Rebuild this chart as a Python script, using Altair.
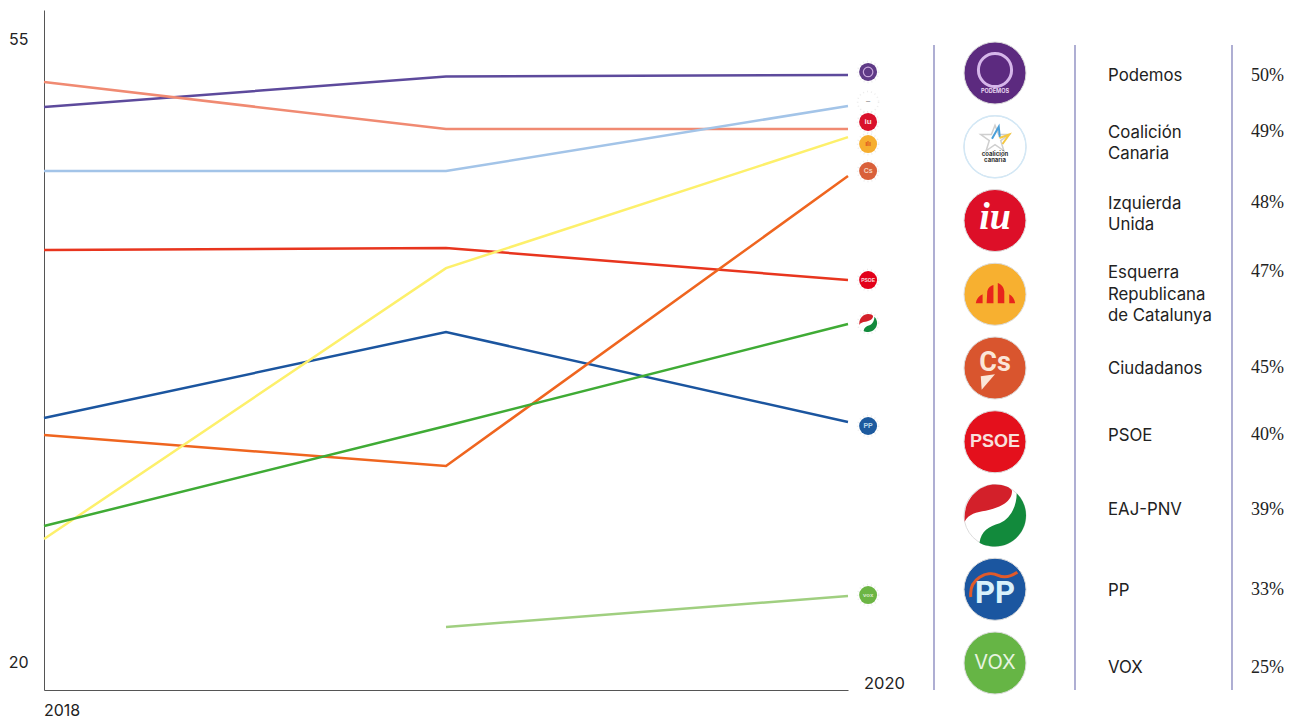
import altair as alt
import pandas as pd

# ---- values ----
years = [2018, 2019, 2020]
podemos = [51.18, 52.89, 52.98]
izquierda = [52.58, 49.94, 49.94]
coalicion = [47.58, 47.58, 51.24]
psoe = [43.15, 43.26, 41.46]
pp = [33.71, 38.54, 33.48]
ciudadanos = [32.75, 31.01, 47.30]
esquerra = [26.91, 42.13, 49.49]
pnv = [27.64, 33.26, 38.99]
vox = [None, 21.97, 23.71]

line_names = ["Podemos", "Izquierda Unida", "Coalición Canaria", "PSOE", "PP", "Ciudadanos", "Esquerra", "EAJ-PNV", "VOX"]
line_values = [podemos, izquierda, coalicion, psoe, pp, ciudadanos, esquerra, pnv, vox]
line_colors = ["#5d4a9c", "#f08a72", "#a3c4e8", "#e8351e", "#1b559f", "#ef651f", "#fdf06b", "#3fab35", "#a0cf80"]

dot_values = [53.15, 51.46, 50.34, 49.10, 47.58, 41.46, 39.04, 33.26, 23.76]
dot_colors = ["#5f3a86", "#ffffff", "#d9112b", "#f6ae2f", "#d9603a", "#e2001a", "#ffffff", "#1d5a9e", "#6cb544"]

party_lines = [["Podemos"], ["Coalición", "Canaria"], ["Izquierda", "Unida"],
               ["Esquerra", "Republicana", "de Catalunya"], ["Ciudadanos"], ["PSOE"],
               ["EAJ-PNV"], ["PP"], ["VOX"]]
percents = ["50%", "49%", "48%", "47%", "45%", "40%", "39%", "33%", "25%"]
logo_colors = ["#5c2a7f", "#ffffff", "#dd0f28", "#f7b030", "#d9552e", "#e4101c", "#ffffff", "#1b56a0", "#66b545"]

# ---- table row placement, in row units ----
label_rows = [0.03, 0.80, 1.76, 2.70, 4.00, 4.91, 5.91, 7.01, 8.05]
percent_rows = [0.03, 0.79, 1.75, 2.68, 3.99, 4.89, 5.91, 7.00, 8.05]
line_step = 0.2915

# ---- frames ----
lines_df = pd.DataFrame(
    [{"party": n, "year": y, "value": v}
     for n, vals in zip(line_names, line_values) for y, v in zip(years, vals) if v is not None]
)
dots_df = pd.DataFrame({"i": list(range(9)), "value": dot_values, "year": 2020.05, "color": dot_colors})
logos_df = pd.DataFrame({"row": list(range(9)), "color": logo_colors})
labels_df = pd.DataFrame(
    [{"text": t, "row": r + k * line_step}
     for r, ls in zip(label_rows, party_lines) for k, t in enumerate(ls)]
)
pct_df = pd.DataFrame({"text": percents, "row": percent_rows})

X = alt.X("year:Q", scale=alt.Scale(domain=[2018, 2020], nice=False, zero=False),
          axis=alt.Axis(values=[2018, 2020], labels=False, ticks=False, grid=False, title=None,
                        domainColor="#555555", domainWidth=1))
Y = alt.Y("value:Q", scale=alt.Scale(domain=[18.43, 56.63], nice=False, zero=False),
          axis=alt.Axis(values=[20, 55], ticks=False, grid=False, title=None, domainColor="#555555",
                        domainWidth=1, labelFont="Inter", labelFontSize=16, labelColor="#222222",
                        labelPadding=16))

lines = alt.Chart(lines_df).mark_line(strokeWidth=2.5, clip=False).encode(
    x=X, y=Y,
    color=alt.Color("party:N", legend=None,
                    scale=alt.Scale(domain=line_names, range=line_colors)),
)

NOX = alt.X("year:Q", scale=alt.Scale(domain=[2018, 2020], nice=False, zero=False), axis=None)
NOY = alt.Y("value:Q", scale=alt.Scale(domain=[18.43, 56.63], nice=False, zero=False), axis=None)

halo = alt.Chart(dots_df).mark_point(filled=False, size=440, stroke="#c9c9c9", strokeWidth=1.5,
                                     strokeDash=[1, 3], opacity=0.35).encode(x=NOX, y=NOY)
dots = alt.Chart(dots_df).mark_point(filled=True, size=324, opacity=1).encode(
    x=NOX, y=NOY, fill=alt.Fill("color:N", scale=None), stroke=alt.value(None))

PNV_RED = ("M-0.98,0.05 C-0.98,-0.55 -0.5,-1 0,-1 C0.3,-1 0.5,-0.9 0.55,-0.8 "
           "C0.55,-0.4 0.1,-0.25 -0.3,-0.15 C-0.6,-0.1 -0.85,-0.05 -0.98,0.2 Z")
PNV_GREEN = ("M0.7,-0.72 C0.92,-0.5 1,-0.25 1,0 C1,0.55 0.55,1 0,1 C-0.2,1 -0.4,0.95 -0.5,0.88 "
             "C-0.45,0.5 -0.2,0.35 0.15,0.25 C0.5,0.1 0.7,-0.3 0.7,-0.72 Z")
ERC_BARS = ("M-0.62,0.29 C-0.6,0.15 -0.52,0.05 -0.4,0.0 L-0.4,0.29 Z "
            "M-0.27,0.29 L-0.25,-0.1 C-0.22,-0.22 -0.14,-0.28 -0.05,-0.3 L-0.05,0.29 Z "
            "M0.09,0.29 L0.09,-0.36 C0.2,-0.33 0.28,-0.22 0.3,-0.1 L0.3,0.29 Z "
            "M0.46,0.0 C0.56,0.05 0.63,0.15 0.65,0.29 L0.46,0.29 Z")
STAR = "M0,-0.9 L0.24,-0.28 L0.95,-0.28 L0.38,0.12 L0.59,0.8 L0,0.4 L-0.59,0.8 L-0.38,0.12 L-0.95,-0.28 L-0.24,-0.28 Z"
STAR_BLUE = "M-0.2,0 L0.25,-0.8 L0.32,-0.1"
STAR_YELLOW = "M0.3,-0.05 L0.95,-0.28 L0.5,0.35"
PP_ARC = "M-0.78,0.25 C-0.85,-0.35 -0.25,-0.62 0.1,-0.45 C0.3,-0.36 0.5,-0.4 0.72,-0.55"
CS_TRI = "M-0.46,0.27 L0,0.2 L-0.43,0.7 Z"

LOGO_X = alt.value(951)
RowY = alt.Y("row:Q", scale=alt.Scale(domain=[0, 8], range=[63, 653], nice=False, zero=False), axis=None)
LOGO_SIZE = 3844
SHAPE_SIZE = 3844


def one(row):
    return logos_df[logos_df["row"] == row]


logos = alt.Chart(logos_df).mark_point(filled=True, size=LOGO_SIZE, opacity=1, stroke="#dddddd", strokeWidth=1).encode(
    x=LOGO_X, y=RowY, fill=alt.Fill("color:N", scale=None))


def glyph(row, shape, fill=None, stroke=None, width=1.0, size=SHAPE_SIZE):
    kw = dict(shape=shape, size=size, opacity=1, strokeWidth=width)
    if fill:
        return alt.Chart(one(row)).mark_point(filled=True, fill=fill, **kw).encode(
            x=LOGO_X, y=RowY, stroke=alt.value(stroke or "transparent"))
    return alt.Chart(one(row)).mark_point(filled=False, stroke=stroke, **kw).encode(x=LOGO_X, y=RowY)


def logo_text(row, text, font, size, color, dy=0, weight="normal", style="normal"):
    return alt.Chart(one(row)).mark_text(text=text, font=font, fontSize=size, color=color, dy=dy,
                                         fontWeight=weight, fontStyle=style, align="center",
                                         baseline="middle").encode(x=LOGO_X, y=RowY)


def small_glyph(row, shape, fill):
    d = dots_df[dots_df["i"] == row]
    return alt.Chart(d).mark_point(filled=True, shape=shape, fill=fill, size=324, opacity=1,
                                   stroke="transparent").encode(x=NOX, y=NOY)


def small_text(row, text, size, color="#ffffff", font="Liberation Sans"):
    d = dots_df[dots_df["i"] == row]
    return alt.Chart(d).mark_text(text=text, font=font, fontSize=size, color=color, fontWeight="bold",
                                  align="center", baseline="middle", opacity=0.85).encode(x=NOX, y=NOY)


podemos_ring = alt.Chart(one(0)).mark_point(filled=False, size=1100, stroke="#d6b6ea", strokeWidth=3,
                                            opacity=1, yOffset=-3).encode(x=LOGO_X, y=RowY)
cc_ring = alt.Chart(one(1)).mark_point(filled=False, size=LOGO_SIZE, stroke="#d3e8f6", strokeWidth=1.5,
                                       opacity=1).encode(x=LOGO_X, y=RowY)
small_ring = alt.Chart(dots_df[dots_df["i"] == 0]).mark_point(filled=False, size=90, stroke="#c9a8dc", strokeWidth=1.2,
                                                              opacity=1).encode(x=NOX, y=NOY)
details = [
    podemos_ring,
    logo_text(0, "PODEMOS", "Inter", 5.5, "#e8d8f2", dy=18, weight="bold"),
    cc_ring,
    alt.Chart(one(1)).mark_point(filled=False, shape=STAR, size=900, stroke="#cfcfcf", strokeWidth=1.5, opacity=1,
                                 yOffset=-8).encode(x=LOGO_X, y=RowY),
    alt.Chart(one(1)).mark_point(filled=False, shape=STAR_BLUE, size=900, stroke="#4a9fd8", strokeWidth=2, opacity=1,
                                 yOffset=-8).encode(x=LOGO_X, y=RowY),
    alt.Chart(one(1)).mark_point(filled=False, shape=STAR_YELLOW, size=900, stroke="#f5c842", strokeWidth=2, opacity=1,
                                 yOffset=-8).encode(x=LOGO_X, y=RowY),
    logo_text(1, "coalición", "Inter", 6, "#333333", dy=7, weight="bold"),
    logo_text(1, "canaria", "Inter", 6, "#333333", dy=13, weight="bold"),
    logo_text(2, "iu", "Liberation Serif", 38, "#ffffff", dy=-3, weight="bold", style="italic"),
    glyph(3, ERC_BARS, fill="#e8241c"),
    logo_text(4, "Cs", "Roboto", 27, "#fbe6d8", dy=-5, weight="bold"),
    glyph(4, CS_TRI, fill="#fbe6d8"),
    logo_text(5, "PSOE", "Liberation Sans", 18, "#f8e0dc", dy=0, weight="bold"),
    glyph(6, PNV_RED, fill="#d3202a"),
    glyph(6, PNV_GREEN, fill="#128a3c"),
    glyph(7, PP_ARC, stroke="#e05a2a", width=3),
    logo_text(7, "PP", "Roboto", 31, "#d8f0fb", dy=5, weight="bold"),
    logo_text(8, "VOX", "Inter", 20, "#e8f4e0", dy=0),
    small_ring,
    small_text(1, "~", 8, color="#888888"),
    small_text(2, "iu", 8),
    small_text(3, "ılı", 7, color="#d8401c"),
    small_text(4, "Cs", 7, color="#fbe6d8"),
    small_text(5, "PSOE", 5),
    small_glyph(6, PNV_RED, "#d3202a"),
    small_glyph(6, PNV_GREEN, "#128a3c"),
    small_text(7, "PP", 7, color="#d8f0fb"),
    small_text(8, "vox", 6, color="#e8f4e0"),
]

rules_df = pd.DataFrame({"col": [890, 1031, 1188]})
rules = alt.Chart(rules_df).mark_rule(color="#a6a6cf", strokeWidth=1.8).encode(
    x=alt.X("col:Q", scale=None, axis=None), y=alt.value(35), y2=alt.value(680))

labels = alt.Chart(labels_df).mark_text(font="Inter", fontSize=16.8, color="#222222", align="left",
                                        baseline="middle", dy=1).encode(
    x=alt.value(1064), y=RowY, text="text:N")
pcts = alt.Chart(pct_df).mark_text(font="Liberation Serif", fontSize=18, color="#222222", align="left",
                                   baseline="middle", dy=1).encode(
    x=alt.value(1207), y=RowY, text="text:N")

year_2018 = alt.Chart(pd.DataFrame({"year": [2018], "t": ["2018"]})).mark_text(
    font="Inter", fontSize=16, color="#222222", align="left", baseline="middle").encode(
    x=NOX, y=alt.value(701), text="t:N")
year_2020 = alt.Chart(pd.DataFrame({"year": [2020], "t": ["2020"]})).mark_text(
    font="Inter", fontSize=16.5, color="#222222", align="left", baseline="middle", dx=16).encode(
    x=NOX, y=alt.value(674), text="t:N")

chart = alt.layer(
    lines, halo, dots, year_2018, year_2020, rules, logos, *details, labels, pcts
).resolve_scale(y="independent", x="independent").properties(
    width=804, height=680,
    padding={"left": 36, "top": 2, "right": 439, "bottom": 30},
    autosize=alt.AutoSizeParams(type="none"),
).configure_view(stroke=None)

chart.save("out.html", embed_options={"renderer": "svg", "actions": False})
